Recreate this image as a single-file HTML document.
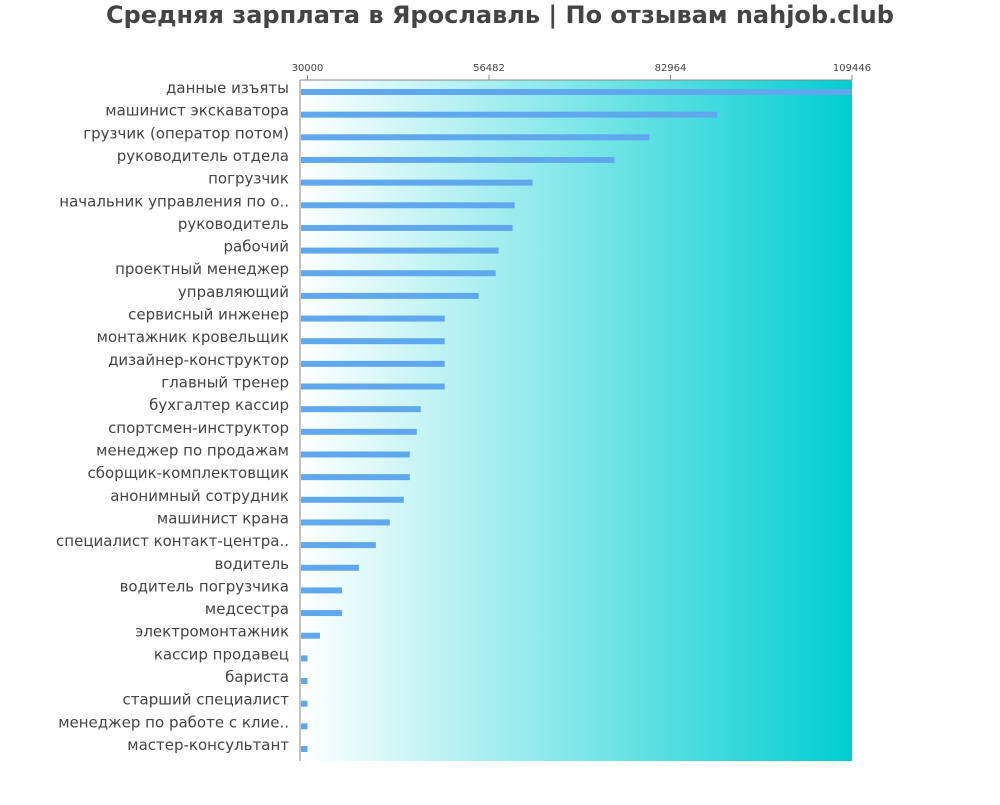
<!DOCTYPE html>
<html><head><meta charset="utf-8"><style>
body{margin:0;background:#fff;font-family:"Liberation Sans","DejaVu Sans",sans-serif}
</style></head><body>
<svg width="1000" height="800" xmlns="http://www.w3.org/2000/svg">
<defs><linearGradient id="g" x1="0" x2="1" y1="0" y2="0"><stop offset="0" stop-color="#ffffff"/><stop offset="1" stop-color="#00ced1"/></linearGradient></defs>
<text x="500" y="23" text-anchor="middle" font-family="DejaVu Sans, sans-serif" font-weight="bold" font-size="24" fill="#444">Средняя зарплата в Ярославль | По отзывам nahjob.club</text>
<g id="plot"></g>
</svg>
<script>
const categories=["данные изъяты","машинист экскаватора","грузчик (оператор потом)","руководитель отдела","погрузчик","начальник управления по о..","руководитель","рабочий","проектный менеджер","управляющий","сервисный инженер","монтажник кровельщик","дизайнер-конструктор","главный тренер","бухгалтер кассир","спортсмен-инструктор","менеджер по продажам","сборщик-комплектовщик","анонимный сотрудник","машинист крана","специалист контакт-центра..","водитель","водитель погрузчика","медсестра","электромонтажник","кассир продавец","бариста","старший специалист","менеджер по работе с клие..","мастер-консультант"];
const values=[109446,89786,79882,74785,62841,60220,59929,57890,57453,54977,50025,50025,50025,50025,46530,45947,44928,44928,44054,42015,39976,37500,35025,35025,31820,30000,30000,30000,30000,30000];
const tickValues=[30000,56482,82964,109446];
const NS="http://www.w3.org/2000/svg";
const L=300,R=852,T=80,B=761,dMin=28908,dMax=109446;
const x=v=>L+(v-dMin)/(dMax-dMin)*(R-L);
const y=i=>92+i*(B-T-24)/ (categories.length-1)*1.0;
const p=document.getElementById('plot');
function mk(t,a){const e=document.createElementNS(NS,t);for(const k in a)e.setAttribute(k,a[k]);p.appendChild(e);return e;}
const bg=mk('rect',{x:L,y:T,width:R-L,height:B-T,fill:'url(#g)'});


const ax=mk('line',{x1:L,x2:R,y1:T,y2:T,stroke:'#888','stroke-width':1});


const ay=mk('line',{x1:L,x2:L,y1:T,y2:B,stroke:'#888','stroke-width':1});


tickValues.forEach(v=>{
 const tl=mk('line',{x1:x(v),x2:x(v),y1:T-5,y2:T,stroke:'#888'});
 
 
 const tx=mk('text',{x:x(v),y:T-9,'text-anchor':'middle','font-size':10,fill:'#444','font-family':'DejaVu Sans, sans-serif'});
 tx.textContent=v;
 
 
});
const step=(749-92)/(categories.length-1);
categories.forEach((c,i)=>{
 const cy=92+i*step;
 const b=mk('rect',{x:L+1,y:cy-3,width:Math.max(0,x(values[i])-L-1),height:6,fill:'#60a8ee'});
 
 
 const t=mk('text',{x:289,y:cy+1,'text-anchor':'end','font-size':15,fill:'#444','font-family':'DejaVu Sans, sans-serif'});
 t.textContent=c;
 
 
});
</script>
</body></html>
